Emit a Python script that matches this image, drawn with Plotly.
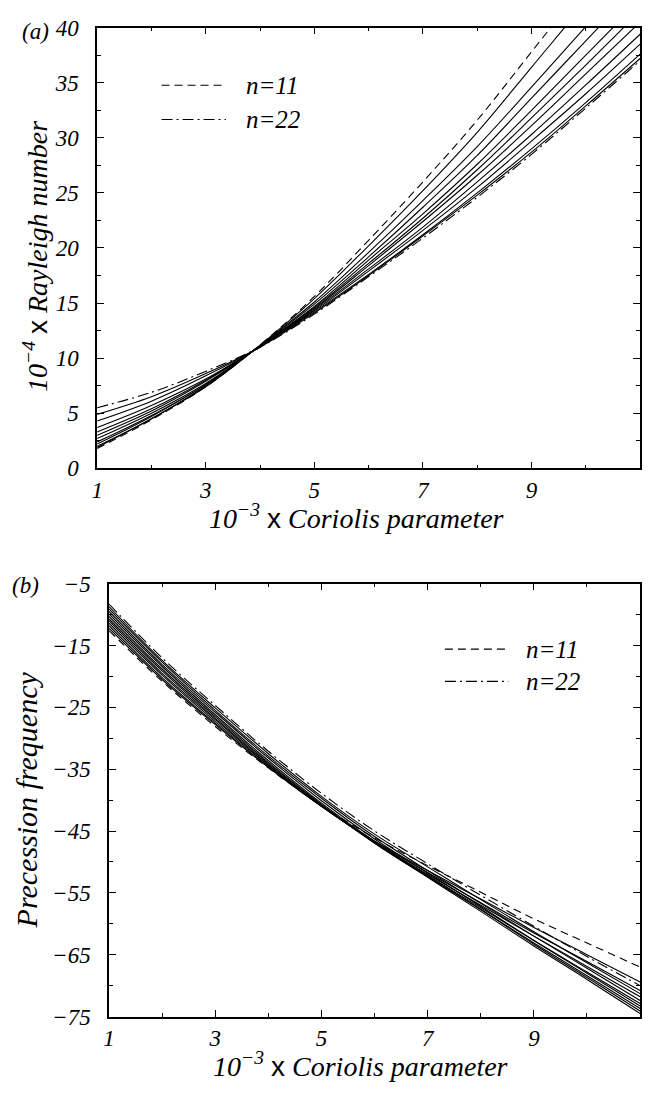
import plotly.graph_objects as go

# ---------------- data ----------------
coriolis = [1, 2, 3, 4, 5, 6, 7, 8, 9, 10, 11]
wavenumbers = [11, 12, 13, 14, 15, 16, 17, 18, 19, 20, 21, 22]

# (a) 10^-4 x Rayleigh number
ra_11 = [1.8, 4.4, 7.4, 11.2, 15.6, 20.7, 26.0, 31.6, 37.8, 44.0, 50.0]
ra_12 = [1.9, 4.5, 7.4, 11.18, 15.4, 20.2, 25.2, 30.5, 36.4, 42.3, 48.0]
ra_13 = [2.0, 4.5, 7.5, 11.16, 15.1, 19.6, 24.3, 29.2, 34.6, 40.1, 45.5]
ra_14 = [2.2, 4.7, 7.6, 11.14, 14.9, 19.2, 23.7, 28.4, 33.6, 38.8, 44.0]
ra_15 = [2.4, 4.8, 7.6, 11.12, 14.7, 18.9, 23.1, 27.6, 32.5, 37.5, 42.5]
ra_16 = [2.7, 5.0, 7.7, 11.1, 14.6, 18.6, 22.7, 27.1, 31.8, 36.6, 41.5]
ra_17 = [3.0, 5.2, 7.9, 11.08, 14.5, 18.4, 22.4, 26.6, 31.1, 35.8, 40.5]
ra_18 = [3.3, 5.4, 8.0, 11.06, 14.4, 18.1, 21.9, 26.0, 30.3, 34.8, 39.4]
ra_19 = [3.7, 5.7, 8.1, 11.04, 14.3, 17.9, 21.6, 25.5, 29.7, 34.0, 38.5]
ra_20 = [4.3, 6.1, 8.4, 11.02, 14.2, 17.6, 21.2, 25.0, 29.0, 33.2, 37.6]
ra_21 = [4.9, 6.5, 8.6, 11.0, 14.1, 17.5, 21.1, 24.8, 28.7, 32.9, 37.2]
ra_22 = [5.5, 6.9, 8.8, 11.0, 14.0, 17.4, 20.9, 24.6, 28.5, 32.7, 37.0]

# (b) precession frequency
pf_11 = [-12.6, -20.8, -28.1, -34.8, -40.9, -46.1, -50.6, -54.9, -59.2, -63.1, -67.0]
pf_12 = [-12.2, -20.5, -27.8, -34.7, -41.0, -46.6, -51.4, -56.0, -60.6, -65.0, -69.4]
pf_13 = [-11.8, -20.2, -27.6, -34.6, -41.0, -46.7, -51.7, -56.6, -61.5, -66.1, -70.8]
pf_14 = [-11.4, -19.8, -27.3, -34.4, -41.0, -46.8, -52.0, -57.0, -62.0, -66.9, -71.8]
pf_15 = [-11.0, -19.5, -27.0, -34.3, -40.9, -46.9, -52.2, -57.4, -62.7, -67.8, -72.9]
pf_16 = [-10.7, -19.1, -26.8, -34.1, -40.8, -46.9, -52.4, -57.7, -63.1, -68.4, -73.7]
pf_17 = [-10.3, -18.8, -26.5, -33.9, -40.7, -47.0, -52.5, -58.0, -63.6, -69.0, -74.5]
pf_18 = [-9.9, -18.4, -26.2, -33.6, -40.5, -46.7, -52.2, -57.7, -63.3, -68.7, -74.1]
pf_19 = [-9.5, -18.1, -25.8, -33.2, -40.1, -46.3, -51.8, -57.2, -62.7, -68.0, -73.3]
pf_20 = [-9.1, -17.7, -25.5, -32.9, -39.7, -45.9, -51.4, -56.7, -62.0, -67.2, -72.4]
pf_21 = [-8.7, -17.4, -25.1, -32.5, -39.4, -45.5, -50.8, -56.1, -61.3, -66.3, -71.3]
pf_22 = [-8.3, -17.0, -24.7, -32.1, -38.9, -45.0, -50.3, -55.4, -60.4, -65.3, -70.0]

x_ticks = [1, 3, 5, 7, 9, 11]
x_minor = [2, 4, 6, 8, 10]
ra_ticks = [0, 5, 10, 15, 20, 25, 30, 35, 40]
ra_minor = [2.5, 7.5, 12.5, 17.5, 22.5, 27.5, 32.5, 37.5]
pf_ticks = [-75, -65, -55, -45, -35, -25, -15, -5]
pf_minor = [-70, -60, -50, -40, -30, -20, -10]

ra_series = [ra_11, ra_12, ra_13, ra_14, ra_15, ra_16, ra_17, ra_18, ra_19, ra_20, ra_21, ra_22]
pf_series = [pf_11, pf_12, pf_13, pf_14, pf_15, pf_16, pf_17, pf_18, pf_19, pf_20, pf_21, pf_22]

# ---------------- figure ----------------
W, H = 650, 1095
SERIF = "Liberation Serif, Times New Roman, DejaVu Serif, serif"
DASH = "8px,5px"
DASHDOT = "11px,4px,2px,4px"


def style_for(n):
    if n == 11:
        return DASH
    if n == 22:
        return DASHDOT
    return "solid"


fig = go.Figure()
for n, ys in zip(wavenumbers, ra_series):
    fig.add_trace(go.Scatter(x=coriolis, y=ys, mode="lines", line_shape="spline",
                             line=dict(color="black", width=1.1, dash=style_for(n)),
                             showlegend=False, xaxis="x", yaxis="y", name=f"n={n}"))
for n, ys in zip(wavenumbers, pf_series):
    fig.add_trace(go.Scatter(x=coriolis, y=ys, mode="lines", line_shape="spline",
                             line=dict(color="black", width=1.1, dash=style_for(n)),
                             showlegend=False, xaxis="x2", yaxis="y2", name=f"n={n}"))


def px(x):
    return x / W


def py(y):
    return 1 - y / H


tickfont = dict(family=SERIF, size=23, color="black", style="italic")
axis_common = dict(showline=True, linecolor="black", linewidth=1.5, mirror="ticks",
                   ticks="inside", ticklen=7, tickwidth=1.2, tickcolor="black",
                   showgrid=False, zeroline=False, tickfont=tickfont)

fig.update_layout(
    width=W, height=H, margin=dict(l=0, r=0, t=0, b=0),
    paper_bgcolor="white", plot_bgcolor="white",
    font=dict(family=SERIF, color="black"),
    xaxis=dict(domain=[px(92), px(640)], range=[1, 11], tickvals=x_ticks, anchor="y",
               minor=dict(tickvals=x_minor, ticks="inside", ticklen=4, tickcolor="black"),
               ticklabelstandoff=0, **axis_common),
    yaxis=dict(domain=[py(467), py(16)], range=[0, 40], tickvals=ra_ticks, anchor="x",
               minor=dict(tickvals=ra_minor, ticks="inside", ticklen=4, tickcolor="black"),
               ticklabelstandoff=12, **axis_common),
    xaxis2=dict(domain=[px(104), px(640)], range=[1, 11], tickvals=x_ticks, anchor="y2",
                minor=dict(tickvals=x_minor, ticks="inside", ticklen=4, tickcolor="black"),
                ticklabelstandoff=0, **axis_common),
    yaxis2=dict(domain=[py(1028), py(585)], range=[-75, -5], tickvals=pf_ticks, anchor="x2",
                minor=dict(tickvals=pf_minor, ticks="inside", ticklen=4, tickcolor="black"),
                ticklabelstandoff=12, **axis_common),
)

X_SPAN = '<span style="font-family:Liberation Sans,Arial,sans-serif;font-style:normal">x</span>'
annots = [
    dict(text="<i>(a)</i>", x=px(30), y=py(20), size=23, ya="middle"),
    dict(text="<i>(b)</i>", x=px(20), y=py(587), size=23, ya="middle"),
    dict(text=f"<i>10<sup>−3</sup></i> {X_SPAN} <i>Coriolis parameter</i>", x=px(354), y=py(536), size=28, ya="bottom"),
    dict(text=f"<i>10<sup>−3</sup></i> {X_SPAN} <i>Coriolis parameter</i>", x=px(358), y=py(1097), size=28, ya="bottom"),
    dict(text=f"<i>10<sup>−4</sup></i> {X_SPAN} <i>Rayleigh number</i>", x=px(30), y=py(250), size=28, angle=-90, ya="middle"),
    dict(text="<i>Precession frequency</i>", x=px(21), y=py(806), size=30, angle=-90, ya="middle"),
]
for a in annots:
    fig.add_annotation(text=a["text"], x=a["x"], y=a["y"], xref="paper", yref="paper",
                       xanchor="center", yanchor=a["ya"], showarrow=False,
                       textangle=a.get("angle", 0),
                       font=dict(family=SERIF, size=a["size"], color="black"))

# legends
legend_items = [
    ("<i>n=11</i>", DASH, 157, 222, 240, 75),
    ("<i>n=22</i>", DASHDOT, 157, 222, 240, 110),
    ("<i>n=11</i>", DASH, 443, 507, 523, 652),
    ("<i>n=22</i>", DASHDOT, 443, 507, 523, 685),
]
for label, dash, x0, x1, tx, ty in legend_items:
    fig.add_shape(type="line", xref="paper", yref="paper", x0=px(x0), x1=px(x1),
                  y0=py(ty), y1=py(ty), line=dict(color="black", width=1.1, dash=dash))
    fig.add_annotation(text=label, x=px(tx), y=py(ty), xref="paper", yref="paper",
                       xanchor="left", yanchor="middle", showarrow=False,
                       font=dict(family=SERIF, size=25, color="black"))

fig.write_html("out.html")
